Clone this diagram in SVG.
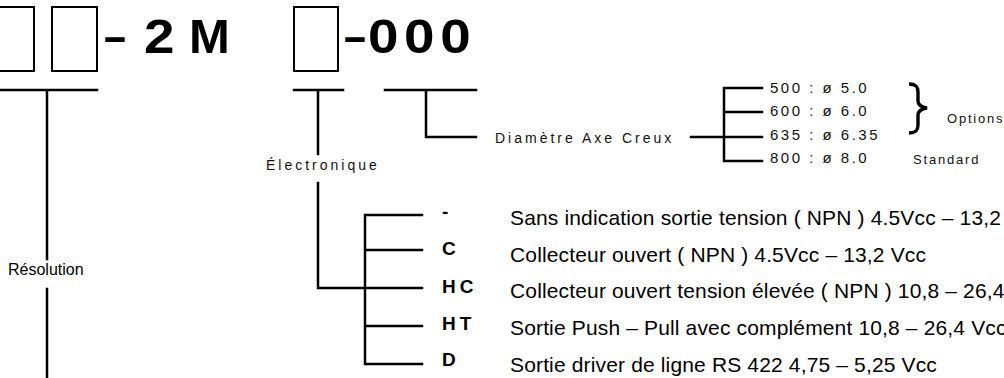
<svg xmlns="http://www.w3.org/2000/svg" width="1004" height="378" viewBox="0 0 1004 378">
<style>
.ln{stroke:#000;stroke-width:2.5;fill:none;stroke-linecap:square}
.box{stroke:#000;stroke-width:2;fill:#fff}
.big{font-family:"Liberation Sans",Arial,sans-serif;font-weight:bold;font-size:49px;fill:#000}
.sm{font-family:"Liberation Sans",Arial,sans-serif;font-size:14px;fill:#111;letter-spacing:3px}
.val{font-family:"Liberation Sans",Arial,sans-serif;font-size:15px;fill:#111;letter-spacing:2.5px}
.opt{font-family:"Liberation Sans",Arial,sans-serif;font-size:13px;fill:#111;letter-spacing:1.8px}
.lab{font-family:"Liberation Sans",Arial,sans-serif;font-size:19px;font-weight:bold;fill:#000;letter-spacing:4px}
.desc{font-family:"Liberation Sans",Arial,sans-serif;font-size:21px;fill:#000;letter-spacing:0.15px}
.res{font-family:"Liberation Sans",Arial,sans-serif;font-size:16px;fill:#000}
</style>
<rect width="1004" height="378" fill="#fff"/>
<g id="code">
<rect class="box" x="-11" y="7" width="45" height="64"/>
<rect class="box" x="52" y="7" width="45" height="64"/>
<rect class="box" x="294" y="7" width="44" height="64"/>
<text class="big" transform="translate(104,53) scale(0.8,1)">–</text>
<text class="big" transform="translate(144,53) scale(1.12,1)">2</text>
<text class="big" x="189" y="53">M</text>
<text class="big" transform="translate(344,53) scale(0.8,1)">–</text>
<text class="big" transform="translate(368,53) scale(1.12,1)" letter-spacing="5">000</text>
</g>
<g id="connectors">
<path class="ln" d="M0 90H97M47 90V259M47 289V378"/>
<path class="ln" d="M294 90H343M318 90V154M318 183V288H422"/>
<path class="ln" d="M365 215V364M365 215H422M365 250H422M365 326H422M365 364H422"/>
<path class="ln" d="M385 90H476M426 90V137H476"/>
<path class="ln" d="M691 137H762M724 88V161M724 88H762M724 112H762M724 161H762"/>
<path d="M909 84C916 84 918 87 918 92V101C918 105 921 107 927 108C921 109 918 111 918 115V125C918 130 916 133 909 133" stroke="#000" stroke-width="3.4" fill="none"/>
</g>
<g id="resolution"><text class="res" x="8" y="275">Résolution</text></g>
<g id="electronique"><text class="sm" x="266" y="170">Électronique</text></g>
<g id="diametre"><text class="sm" x="495" y="143">Diamètre Axe Creux</text></g>
<g id="diameters">
<text class="val" x="770" y="93">500 : ø 5.0</text>
<text class="val" x="770" y="116">600 : ø 6.0</text>
<text class="val" x="770" y="139.5">635 : ø 6.35</text>
<text class="val" x="770" y="163">800 : ø 8.0</text>
<text class="opt" x="947" y="123">Options</text>
<text class="opt" x="913" y="164">Standard</text>
</g>
<g id="outputs">
<text class="lab" x="442" y="218">-</text>
<text class="lab" x="442" y="255">C</text>
<text class="lab" x="442" y="293">HC</text>
<text class="lab" x="442" y="330">HT</text>
<text class="lab" x="442" y="366">D</text>
<text class="desc" x="510" y="225">Sans indication sortie tension ( NPN ) 4.5Vcc – 13,2</text>
<text class="desc" x="510" y="261.5">Collecteur ouvert ( NPN ) 4.5Vcc – 13,2 Vcc</text>
<text class="desc" x="510" y="298">Collecteur ouvert tension élevée ( NPN ) 10,8 – 26,4</text>
<text class="desc" x="510" y="335">Sortie Push – Pull avec complément 10,8 – 26,4 Vcc</text>
<text class="desc" x="510" y="372">Sortie driver de ligne RS 422 4,75 – 5,25 Vcc</text>
</g>
</svg>
